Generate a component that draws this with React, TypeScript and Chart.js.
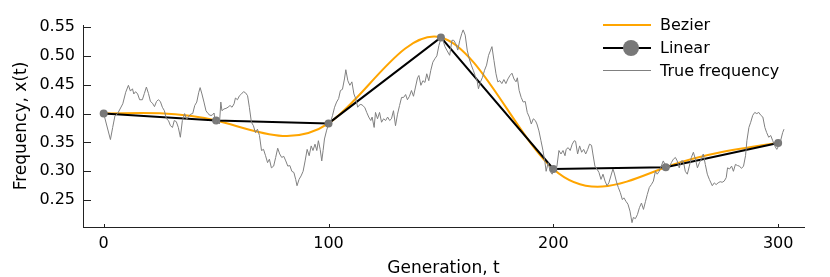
import React, { useEffect, useRef } from "react";
import { Chart, registerables } from "chart.js";

Chart.register(...registerables);

// Knots (sampled generations) used by the Linear and Bezier series
const knotT = [0, 50, 100, 150, 200, 250, 300];
const knotX = [0.4, 0.388, 0.383, 0.532, 0.304, 0.307, 0.349];

// True frequency trajectory
const trueT = [
  0, 3, 4, 5, 6.2, 8.5, 9.8, 11, 11.9, 12.8, 13.4, 14.2, 15.1, 16, 17.2, 18.1, 19, 19.9, 20.8, 21.7,
  22.6, 23.5, 24.3, 25.2, 26.1, 27, 27.9, 28.8, 29.7, 30.6, 31.4, 32.3, 33.2, 34.1, 35, 36, 36.9, 37.8,
  38.7, 39.6, 40.5, 41.4, 42.3, 42.9, 43.7, 44.6, 45.5, 46.4, 47.3, 48.2, 49.1, 49.7, 50.6, 51.5, 52.1,
  52.6, 53.5, 54.4, 55.3, 56.2, 57.1, 58, 58.6, 59.5, 60.4, 61.3, 62.2, 63.1, 64, 64.8, 65.7, 66.6, 67.5,
  68.4, 69.3, 70.2, 71.1, 72, 72.9, 73.7, 74.6, 75.6, 76.5, 77.4, 78.3, 79.2, 80.1, 81, 81.9, 82.8, 83.7,
  84.6, 85.4, 86, 86.9, 87.8, 88.7, 89.6, 90.5, 91.4, 92.3, 93.1, 94, 94.8, 95.5, 96.3, 97, 97.6, 98.2,
  99.1, 100, 100.9, 101.8, 102.7, 103.6, 104.5, 105.3, 106.2, 107.1, 107.7, 108.6, 109.5, 110.4, 111.3,
  112.1, 113, 113.5, 114.4, 115.3, 116.2, 117, 117.9, 118.8, 119.4, 120.3, 120.9, 121.8, 122.7, 123.6,
  124.5, 125.4, 126.3, 127.2, 128, 128.9, 129.8, 130.7, 131.6, 132.5, 133.4, 134.3, 135.1, 136, 136.9,
  137.8, 138.7, 139.6, 140.2, 141.1, 142, 142.9, 143.7, 144.6, 145.5, 146.4, 147.3, 148.2, 149.1, 150,
  150.9, 151.8, 152.6, 153.9, 154.9, 155.7, 156.6, 157.5, 158.4, 159.3, 159.9, 160.8, 161.7, 162.6, 163.5,
  164.4, 165.2, 166.1, 166.7, 167.6, 168.5, 169.4, 170.3, 171.2, 172.1, 172.7, 173.6, 174.5, 175.3, 176.2,
  177.1, 178, 178.9, 179.8, 180.7, 181.6, 182.5, 183.4, 184, 184.8, 185.7, 186.6, 187.5, 188.4, 189.3,
  190.2, 191.1, 192, 192.7, 193.6, 194.5, 195.4, 196.3, 196.8, 197.7, 198.6, 199.5, 200.1, 200.7, 201.6,
  202.5, 203.4, 204.3, 205.2, 205.7, 206.6, 207.5, 208.4, 209.3, 209.9, 210.8, 211.7, 212.6, 213.5, 214.4,
  215.3, 216.1, 217, 217.6, 218.5, 219.4, 220.3, 221.2, 222.1, 223, 223.9, 224.7, 225.6, 226.5, 227.1, 228,
  228.9, 229.8, 230.7, 231.4, 232.3, 233.2, 234.1, 235, 235.6, 236.5, 237.4, 238.3, 239.2, 240.1, 241,
  241.8, 242.7, 243.6, 244.5, 245.4, 246.2, 247.1, 248, 248.9, 249.8, 250.7, 251.6, 252.5, 253.4, 254.3,
  255.1, 256, 256.9, 257.8, 258.7, 259.6, 260.5, 261.4, 262.3, 263.2, 264.1, 265, 265.8, 266.7, 267.6,
  268.5, 269.4, 270.7, 271.6, 272.4, 273.3, 274.2, 275.1, 276, 276.9, 277.5, 278.4, 279.3, 280.1, 281,
  281.9, 282.8, 283.7, 284.6, 285.5, 286.1, 287, 287.8, 288.7, 289.6, 290.5, 291.4, 292.3, 293.2, 294.1,
  294.9, 295.8, 296.7, 297.6, 298.5, 299.4, 300.2, 301.1, 302, 302.6,
];
const trueX = [
  0.4, 0.355, 0.376, 0.396, 0.4, 0.417, 0.437, 0.449, 0.439, 0.443, 0.434, 0.438, 0.434, 0.424, 0.424,
  0.435, 0.446, 0.435, 0.421, 0.418, 0.412, 0.421, 0.424, 0.421, 0.411, 0.405, 0.391, 0.388, 0.379, 0.376,
  0.388, 0.386, 0.376, 0.359, 0.388, 0.4, 0.39, 0.395, 0.399, 0.4, 0.414, 0.42, 0.437, 0.445, 0.434, 0.42,
  0.405, 0.4, 0.397, 0.397, 0.401, 0.382, 0.391, 0.382, 0.42, 0.405, 0.408, 0.409, 0.411, 0.414, 0.411,
  0.417, 0.427, 0.424, 0.431, 0.434, 0.438, 0.436, 0.431, 0.411, 0.385, 0.379, 0.367, 0.373, 0.362, 0.336,
  0.338, 0.327, 0.315, 0.321, 0.306, 0.309, 0.324, 0.34, 0.33, 0.324, 0.326, 0.318, 0.309, 0.31, 0.3,
  0.298, 0.286, 0.275, 0.286, 0.292, 0.3, 0.318, 0.338, 0.327, 0.344, 0.336, 0.347, 0.336, 0.353, 0.338,
  0.318, 0.336, 0.356, 0.37, 0.382, 0.385, 0.397, 0.411, 0.42, 0.426, 0.44, 0.442, 0.46, 0.476, 0.457,
  0.449, 0.455, 0.434, 0.426, 0.411, 0.414, 0.416, 0.414, 0.41, 0.402, 0.394, 0.388, 0.394, 0.376, 0.402,
  0.391, 0.402, 0.385, 0.391, 0.388, 0.394, 0.388, 0.391, 0.405, 0.379, 0.399, 0.414, 0.428, 0.428, 0.433,
  0.424, 0.43, 0.44, 0.43, 0.446, 0.462, 0.466, 0.449, 0.457, 0.454, 0.469, 0.457, 0.475, 0.489, 0.495,
  0.5, 0.518, 0.53, 0.527, 0.516, 0.51, 0.501, 0.527, 0.527, 0.521, 0.51, 0.527, 0.539, 0.545, 0.536, 0.51,
  0.495, 0.484, 0.475, 0.466, 0.457, 0.443, 0.455, 0.463, 0.475, 0.484, 0.501, 0.51, 0.516, 0.492, 0.469,
  0.455, 0.457, 0.452, 0.459, 0.452, 0.46, 0.466, 0.47, 0.46, 0.455, 0.462, 0.44, 0.428, 0.42, 0.421,
  0.402, 0.394, 0.382, 0.391, 0.388, 0.382, 0.37, 0.353, 0.336, 0.315, 0.3, 0.315, 0.3, 0.295, 0.304, 0.3,
  0.309, 0.336, 0.33, 0.336, 0.327, 0.338, 0.341, 0.336, 0.347, 0.353, 0.352, 0.33, 0.344, 0.333, 0.338,
  0.33, 0.338, 0.347, 0.345, 0.33, 0.309, 0.304, 0.298, 0.286, 0.295, 0.283, 0.275, 0.28, 0.292, 0.304,
  0.297, 0.283, 0.272, 0.263, 0.251, 0.254, 0.248, 0.243, 0.231, 0.211, 0.22, 0.218, 0.225, 0.237, 0.245,
  0.234, 0.248, 0.26, 0.272, 0.277, 0.283, 0.3, 0.295, 0.3, 0.309, 0.318, 0.311, 0.306, 0.307, 0.315,
  0.321, 0.324, 0.318, 0.306, 0.318, 0.318, 0.3, 0.295, 0.309, 0.324, 0.333, 0.321, 0.306, 0.315, 0.321,
  0.33, 0.312, 0.295, 0.286, 0.275, 0.28, 0.277, 0.28, 0.282, 0.281, 0.283, 0.289, 0.306, 0.304, 0.309,
  0.3, 0.312, 0.31, 0.309, 0.305, 0.309, 0.327, 0.353, 0.376, 0.385, 0.397, 0.402, 0.4, 0.402, 0.397,
  0.394, 0.376, 0.367, 0.359, 0.362, 0.353, 0.344, 0.338, 0.344, 0.353, 0.367, 0.373,
];

const xTicks = [0, 100, 200, 300];
const yTicks = [0.25, 0.3, 0.35, 0.4, 0.45, 0.5, 0.55];
const seriesNames = ["Bezier", "Linear", "True frequency"];

const FONT = "DejaVu Sans";
const ORANGE = "#FFA500";
const GREY = "#808080";
const MARKER = "#787878";

// Natural cubic spline interpolation mode: sets the Bezier control
// handles of the line element's own points (pixel space).
const naturalSplinePlugin = {
  id: "naturalSpline",
  beforeDatasetDraw(chart: any, args: any) {
    if (args.index !== 0) return;
    const line = args.meta.dataset;
    const pts = args.meta.data;
    const n = pts.length;
    if (n < 3) return;
    const x = pts.map((p: any) => p.x);
    const y = pts.map((p: any) => p.y);
    const h: number[] = [];
    for (let i = 0; i < n - 1; i++) h.push(x[i + 1] - x[i]);
    const M = new Array(n).fill(0);
    const m = n - 2;
    const a: number[] = [], b: number[] = [], c: number[] = [], d: number[] = [];
    for (let i = 1; i <= m; i++) {
      a.push(h[i - 1]);
      b.push(2 * (h[i - 1] + h[i]));
      c.push(h[i]);
      d.push(6 * ((y[i + 1] - y[i]) / h[i] - (y[i] - y[i - 1]) / h[i - 1]));
    }
    const cp: number[] = [], dp: number[] = [];
    for (let i = 0; i < m; i++) {
      const den = b[i] - (i > 0 ? a[i] * cp[i - 1] : 0);
      cp.push(c[i] / den);
      dp.push((d[i] - (i > 0 ? a[i] * dp[i - 1] : 0)) / den);
    }
    for (let i = m - 1; i >= 0; i--) {
      M[i + 1] = dp[i] - (i < m - 1 ? cp[i] * M[i + 2] : 0);
    }
    pts[0].cp1x = x[0];
    pts[0].cp1y = y[0];
    pts[n - 1].cp2x = x[n - 1];
    pts[n - 1].cp2y = y[n - 1];
    for (let i = 0; i < n - 1; i++) {
      const sl = (y[i + 1] - y[i]) / h[i];
      const s0 = sl - (h[i] * (2 * M[i] + M[i + 1])) / 6;
      const s1 = sl + (h[i] * (M[i] + 2 * M[i + 1])) / 6;
      pts[i].cp2x = x[i] + h[i] / 3;
      pts[i].cp2y = y[i] + (s0 * h[i]) / 3;
      pts[i + 1].cp1x = x[i + 1] - h[i] / 3;
      pts[i + 1].cp1y = y[i + 1] - (s1 * h[i]) / 3;
    }
    line._pointsUpdated = true;
    line._path = undefined;
  },
};

const decorPlugin = {
  id: "decor",
  afterDraw(chart: any) {
    const ctx = chart.ctx;
    const { left, bottom } = chart.chartArea;
    const xs = chart.scales.x;
    const ys = chart.scales.y;
    ctx.save();
    ctx.strokeStyle = "#222";
    ctx.lineWidth = 1;
    ctx.beginPath();
    for (const v of yTicks) {
      const yy = Math.round(ys.getPixelForValue(v)) + 0.5;
      ctx.moveTo(left, yy);
      ctx.lineTo(left + 8, yy);
    }
    for (const v of xTicks) {
      const xx = Math.round(xs.getPixelForValue(v)) + 0.5;
      ctx.moveTo(xx, bottom);
      ctx.lineTo(xx, bottom - 3);
    }
    ctx.stroke();

    // legend
    const lx0 = 603;
    const lx1 = 651;
    const rows = [25, 48, 70.5];
    const colors = [ORANGE, "#000", GREY];
    const widths = [2, 2, 1.2];
    ctx.font = `16px "${FONT}"`;
    ctx.textBaseline = "middle";
    ctx.textAlign = "left";
    seriesNames.forEach((name, i) => {
      ctx.strokeStyle = colors[i];
      ctx.lineWidth = widths[i];
      ctx.beginPath();
      ctx.moveTo(lx0, rows[i]);
      ctx.lineTo(lx1, rows[i]);
      ctx.stroke();
      if (i === 1) {
        ctx.fillStyle = MARKER;
        ctx.beginPath();
        ctx.arc((lx0 + lx1) / 2 + 4, rows[i], 8, 0, Math.PI * 2);
        ctx.fill();
      }
      ctx.fillStyle = "#000";
      ctx.fillText(name, 660, rows[i] + 1);
    });
    ctx.restore();
  },
};

export default function App() {
  const canvasRef = useRef<HTMLCanvasElement | null>(null);

  useEffect(() => {
    document.body.style.margin = "0";
    const canvas = canvasRef.current;
    if (!canvas) return;
    const knots = knotT.map((t, i) => ({ x: t, y: knotX[i] }));
    const truth = trueT.map((t, i) => ({ x: t, y: trueX[i] }));
    const chart = new Chart(canvas, {
      type: "line",
      data: {
        datasets: [
          {
            label: seriesNames[0],
            data: knots,
            borderColor: ORANGE,
            borderWidth: 2,
            pointRadius: 0,
            tension: 0.4,
            order: 3,
          },
          {
            label: seriesNames[1],
            data: knots,
            borderColor: "#000",
            borderWidth: 2,
            pointRadius: 4,
            pointBackgroundColor: MARKER,
            pointBorderWidth: 0,
            tension: 0,
            order: 2,
          },
          {
            label: seriesNames[2],
            data: truth,
            borderColor: GREY,
            borderWidth: 1,
            pointRadius: 0,
            tension: 0,
            order: 1,
          },
        ],
      },
      options: {
        animation: false,
        responsive: true,
        maintainAspectRatio: false,
        layout: { padding: { top: 25, right: 26, left: 0, bottom: 0 } },
        plugins: { legend: { display: false }, tooltip: { enabled: false } },
        scales: {
          x: {
            type: "linear",
            min: -9.2,
            max: 311.5,
            grid: { display: false, drawTicks: false },
            border: { display: true, color: "#222", width: 1 },
            afterBuildTicks: (s: any) => {
              s.ticks = xTicks.map((v) => ({ value: v }));
            },
            afterFit: (s: any) => {
              s.height = 50;
            },
            ticks: {
              font: { family: FONT, size: 16 },
              color: "#000",
              padding: 7,
              maxRotation: 0,
              callback: (v: any) => String(v),
            },
            title: {
              display: true,
              text: "Generation, t",
              font: { family: FONT, size: 17, lineHeight: 1.0 },
              color: "#000",
              padding: { top: 0, bottom: 0 },
            },
          },
          y: {
            type: "linear",
            min: 0.2035,
            max: 0.5535,
            grid: { display: false, drawTicks: false },
            border: { display: true, color: "#222", width: 1 },
            afterBuildTicks: (s: any) => {
              s.ticks = yTicks.map((v) => ({ value: v }));
            },
            afterFit: (s: any) => {
              s.width = 83;
            },
            ticks: {
              font: { family: FONT, size: 16 },
              color: "#000",
              padding: 8,
              callback: (v: any) => Number(v).toFixed(2),
            },
            title: {
              display: true,
              text: "Frequency, x(t)",
              font: { family: FONT, size: 17 },
              color: "#000",
              padding: { top: 11, bottom: 0 },
            },
          },
        },
      },
      plugins: [naturalSplinePlugin, decorPlugin],
    });
    return () => chart.destroy();
  }, []);

  return (
    <div style={{ width: 830, height: 277, position: "relative" }}>
      <canvas ref={canvasRef} />
    </div>
  );
}
